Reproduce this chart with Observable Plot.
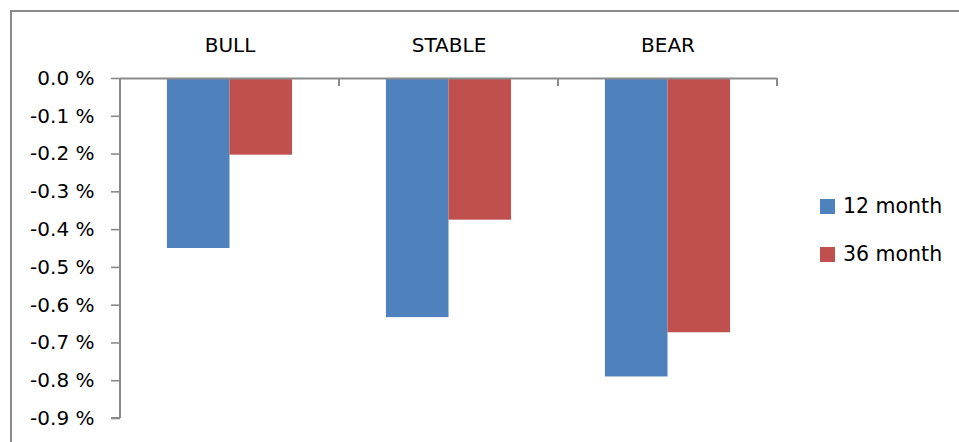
<!DOCTYPE html>
<html>
<head>
<meta charset="utf-8">
<script src="https://cdn.jsdelivr.net/npm/d3@7"></script>
<script src="https://cdn.jsdelivr.net/npm/@observablehq/plot@0.6"></script>
<style>
  body { margin: 0; background: #fff; }
  #wrap { position: relative; width: 959px; height: 442px; overflow: hidden; font-family: "DejaVu Sans", sans-serif; }
  #border { position: absolute; left: 10px; top: 10px; width: 1200px; height: 1200px; border: 2px solid #8a8a8a; box-sizing: border-box; pointer-events: none; }
  #wrap svg text { fill: #000; }
  #wrap svg g[aria-label="y-axis tick"] { stroke-width: 1.6; }
  #wrap svg .tick line { stroke-width: 1.6; }
  .legend { position: absolute; left: 820px; top: 0; font-size: 20.5px; color: #000; }
  .legend .item { position: absolute; left: 0; display: flex; align-items: center; white-space: nowrap; height: 16px; }
  .legend .sw { width: 15px; height: 15px; margin-right: 8px; flex: none; }
</style>
</head>
<body>
<div id="wrap">
  <div id="chart"></div>
  <div class="legend" id="legend"></div>
  <div id="border"></div>
</div>
<script>
// Market scenarios and the average return change (in %) for each horizon
const categories = ["BULL", "STABLE", "BEAR"];
const seriesNames = ["12 month", "36 month"];
const month12 = [-0.45, -0.633, -0.79];
const month36 = [-0.203, -0.375, -0.673];
const yTicks = [0, -0.1, -0.2, -0.3, -0.4, -0.5, -0.6, -0.7, -0.8, -0.9];
const colors = ["#4F81BD", "#C0504D"];

const rows12 = categories.map((c, i) => ({category: c, series: seriesNames[0], value: month12[i]}));
const rows36 = categories.map((c, i) => ({category: c, series: seriesNames[1], value: month36[i]}));

const W = 959, H = 442;
const margin = {left: 120, right: 182, top: 78, bottom: 24};

// Clustered columns: two bars per category with a 150% gap width
const band = (W - margin.left - margin.right) / categories.length;
const barW = band / 3.5;
const gap = barW * 0.75;

const fmt = d => (Math.abs(d) < 1e-9 ? "0.0" : d.toFixed(1)) + " %";

const chart = Plot.plot({
  width: W,
  height: H,
  marginLeft: margin.left,
  marginRight: margin.right,
  marginTop: margin.top,
  marginBottom: margin.bottom,
  style: {fontFamily: "'DejaVu Sans', sans-serif", fontSize: "20px", color: "#8a8a8a", background: "transparent", overflow: "visible"},
  x: {domain: categories, padding: 0, axis: "top", tickSize: 0, tickPadding: 27, label: null},
  y: {domain: [-0.9, 0], ticks: yTicks, tickFormat: fmt, tickSize: 9, tickPadding: 17, label: null},
  marks: [
    Plot.barY(rows12, {x: "category", y: "value", fill: colors[0], insetLeft: gap, insetRight: band - gap - barW}),
    Plot.barY(rows36, {x: "category", y: "value", fill: colors[1], insetLeft: gap + barW, insetRight: gap}),
    Plot.ruleY([0], {stroke: "#8a8a8a", strokeWidth: 2})
  ]
});

document.getElementById("chart").appendChild(chart);

// Vertical value axis line and the category boundary ticks on the top axis
const sx = chart.scale("x");
const sy = chart.scale("y");
const [x0, x1] = sx.range;
const step = (x1 - x0) / sx.domain.length;
const yBottom = Math.max(...sy.range), yTop = Math.min(...sy.range);
const g = d3.select(chart).append("g").attr("stroke", "#8a8a8a").attr("stroke-width", 2).attr("fill", "none");
g.append("line").attr("x1", x0).attr("x2", x0).attr("y1", yTop).attr("y2", yBottom);
g.append("line").attr("x1", x0 - 9).attr("x2", x0).attr("y1", yBottom).attr("y2", yBottom);
d3.range(sx.domain.length + 1).forEach(i => {
  const x = x0 + i * step;
  g.append("line").attr("x1", x).attr("x2", x).attr("y1", yTop).attr("y2", yTop + 8);
});

// Legend
const legend = d3.select("#legend");
seriesNames.forEach((name, i) => {
  const item = legend.append("div").attr("class", "item").style("top", (198 + i * 48) + "px");
  item.append("div").attr("class", "sw").style("background", colors[i]);
  item.append("span").text(name);
});
</script>
</body>
</html>
